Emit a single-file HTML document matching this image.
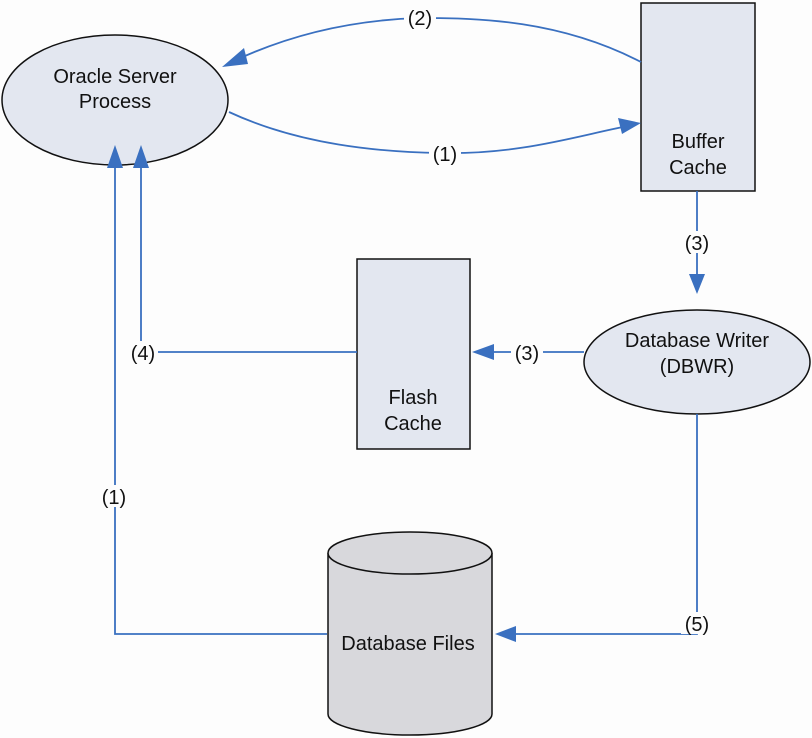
<!DOCTYPE html>
<html><head><meta charset="utf-8"><style>
html,body{margin:0;padding:0;background:#fdfdfd;}
svg{display:block}
text{font-family:"Liberation Sans",sans-serif;font-size:20px;fill:#111;}
</style></head><body>
<svg width="812" height="738" viewBox="0 0 812 738" xmlns="http://www.w3.org/2000/svg">
<rect width="812" height="738" fill="#fdfdfd"/>
<ellipse cx="115" cy="100" rx="113" ry="65" fill="#e3e7f0" stroke="#111" stroke-width="1.5"/>
<text x="115" y="83" text-anchor="middle">Oracle Server</text>
<text x="115" y="108" text-anchor="middle">Process</text>
<rect x="641" y="3" width="114" height="188" fill="#e3e7f0" stroke="#111" stroke-width="1.5"/>
<text x="698" y="148" text-anchor="middle">Buffer</text>
<text x="698" y="174" text-anchor="middle">Cache</text>
<rect x="357" y="259" width="113" height="190" fill="#e3e7f0" stroke="#111" stroke-width="1.5"/>
<text x="413" y="404" text-anchor="middle">Flash</text>
<text x="413" y="430" text-anchor="middle">Cache</text>
<ellipse cx="697" cy="362" rx="113" ry="52" fill="#e3e7f0" stroke="#111" stroke-width="1.5"/>
<text x="697" y="347" text-anchor="middle">Database Writer</text>
<text x="697" y="373" text-anchor="middle">(DBWR)</text>
<path d="M328 553 L328 714 A82 21 0 0 0 492 714 L492 553" fill="#d8d8dc" stroke="#111" stroke-width="1.5"/>
<ellipse cx="410" cy="553" rx="82" ry="21" fill="#d8d8dc" stroke="#111" stroke-width="1.5"/>
<text x="408" y="650" text-anchor="middle">Database Files</text>
<g stroke="#3a70c0" stroke-width="1.8" fill="none">
<path d="M641 62 C560 20 480 18 420 18 C350 20 290 35 236 60"/>
<path d="M229 112 C300 145 380 152 440 153 C520 155 580 135 628 126"/>
<path d="M115 160 L115 634 L327 634"/>
<path d="M141 160 L141 352 L357 352"/>
<path d="M584 352 L490 352"/>
<path d="M697 191 L697 276"/>
<path d="M697 414 L697 634 L510 634"/>
</g>
<g fill="#3a70c0">
<polygon points="222,67 244,48 248,64"/>
<polygon points="641,123 618,118 622,134"/>
<polygon points="115,145 107,168 123,168"/>
<polygon points="141,145 133,168 149,168"/>
<polygon points="472,352 494,344 494,360"/>
<polygon points="697,294 689,274 705,274"/>
<polygon points="495,634 516,626 516,642"/>
</g>
<g>
<rect x="404" y="6" width="32" height="22" fill="#fdfdfd"/>
<text x="420" y="25" text-anchor="middle">(2)</text>
<rect x="429" y="142" width="32" height="22" fill="#fdfdfd"/>
<text x="445" y="161" text-anchor="middle">(1)</text>
<rect x="681" y="231" width="32" height="22" fill="#fdfdfd"/>
<text x="697" y="250" text-anchor="middle">(3)</text>
<rect x="511" y="341" width="32" height="22" fill="#fdfdfd"/>
<text x="527" y="360" text-anchor="middle">(3)</text>
<rect x="126" y="341" width="32" height="22" fill="#fdfdfd"/>
<text x="143" y="360" text-anchor="middle">(4)</text>
<rect x="99" y="485" width="32" height="22" fill="#fdfdfd"/>
<text x="114" y="504" text-anchor="middle">(1)</text>
<rect x="681" y="612" width="32" height="22" fill="#fdfdfd"/>
<text x="697" y="631" text-anchor="middle">(5)</text>
</g>
</svg>
</body></html>
